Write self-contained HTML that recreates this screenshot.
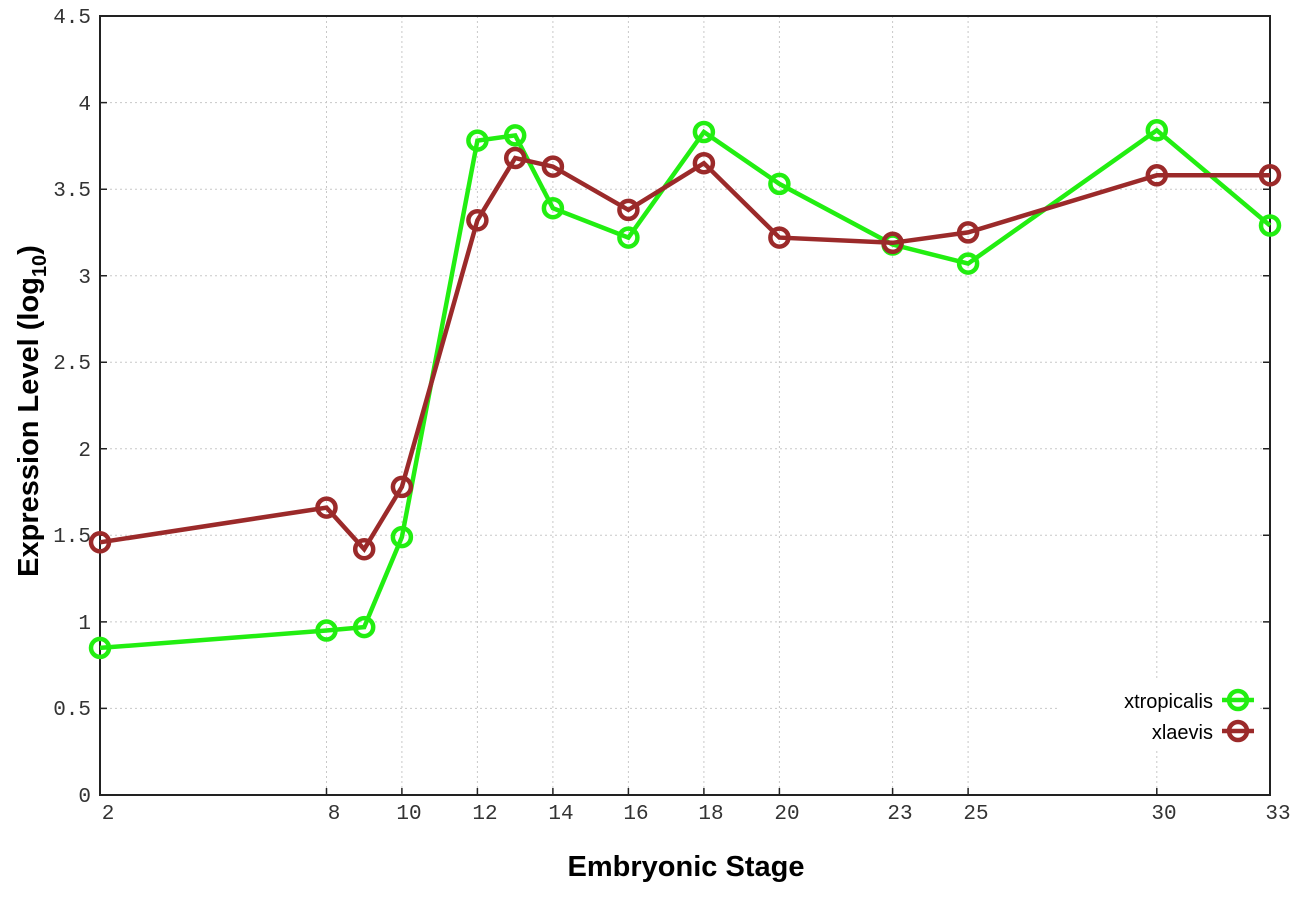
<!DOCTYPE html>
<html><head><meta charset="utf-8"><style>html,body{margin:0;padding:0;background:#fff}</style></head>
<body>
<svg width="1296" height="907" viewBox="0 0 1296 907" xmlns="http://www.w3.org/2000/svg">
<rect width="1296" height="907" fill="#fff"/>
<g stroke="#c8c8c8" stroke-width="1" stroke-dasharray="2,3">
<line x1="100" y1="708.4" x2="1270" y2="708.4"/><line x1="100" y1="621.9" x2="1270" y2="621.9"/>
<line x1="100" y1="535.3" x2="1270" y2="535.3"/><line x1="100" y1="448.8" x2="1270" y2="448.8"/>
<line x1="100" y1="362.3" x2="1270" y2="362.3"/><line x1="100" y1="275.7" x2="1270" y2="275.7"/>
<line x1="100" y1="189.2" x2="1270" y2="189.2"/><line x1="100" y1="102.6" x2="1270" y2="102.6"/>
<line x1="326.5" y1="16" x2="326.5" y2="795"/>
<line x1="401.9" y1="16" x2="401.9" y2="795"/><line x1="477.4" y1="16" x2="477.4" y2="795"/>
<line x1="552.9" y1="16" x2="552.9" y2="795"/>
<line x1="628.4" y1="16" x2="628.4" y2="795"/><line x1="703.9" y1="16" x2="703.9" y2="795"/>
<line x1="779.4" y1="16" x2="779.4" y2="795"/><line x1="892.6" y1="16" x2="892.6" y2="795"/>
<line x1="968.1" y1="16" x2="968.1" y2="795"/><line x1="1156.8" y1="16" x2="1156.8" y2="795"/>
</g>
<rect x="1060" y="680" width="200" height="70" fill="#fff"/>
<rect x="100" y="16" width="1170" height="779" fill="none" stroke="#222" stroke-width="2"/>
<g stroke="#222" stroke-width="1.5">
<path d="M100 708.4h7M100 621.9h7M100 535.3h7M100 448.8h7M100 362.3h7M100 275.7h7M100 189.2h7M100 102.6h7"/>
<path d="M1270 708.4h-7M1270 621.9h-7M1270 535.3h-7M1270 448.8h-7M1270 362.3h-7M1270 275.7h-7M1270 189.2h-7M1270 102.6h-7"/>
<path d="M326.5 795v-7M401.9 795v-7M477.4 795v-7M552.9 795v-7M628.4 795v-7M703.9 795v-7M779.4 795v-7M892.6 795v-7M968.1 795v-7M1156.8 795v-7"/>
</g>
<g font-family="Liberation Mono, monospace" font-size="21" fill="#333" text-anchor="end">
<text x="91" y="802">0</text><text x="91" y="715">0.5</text><text x="91" y="629">1</text>
<text x="91" y="542">1.5</text><text x="91" y="456">2</text><text x="91" y="369">2.5</text>
<text x="91" y="283">3</text><text x="91" y="196">3.5</text><text x="91" y="110">4</text><text x="91" y="23">4.5</text>
</g>
<g font-family="Liberation Mono, monospace" font-size="21" fill="#333" text-anchor="middle">
<text x="108" y="819">2</text><text x="334" y="819">8</text>
<text x="409" y="819">10</text><text x="485" y="819">12</text><text x="561" y="819">14</text>
<text x="636" y="819">16</text><text x="711" y="819">18</text><text x="787" y="819">20</text>
<text x="900" y="819">23</text><text x="976" y="819">25</text><text x="1164" y="819">30</text>
<text x="1278" y="819">33</text>
</g>
<text x="686" y="876" font-family="Liberation Sans, sans-serif" font-weight="bold" font-size="29" text-anchor="middle" fill="#000">Embryonic Stage</text>
<text transform="translate(38,411) rotate(-90)" font-family="Liberation Sans, sans-serif" font-weight="bold" font-size="29" text-anchor="middle" fill="#000">Expression Level (log<tspan font-size="20" dy="8">10</tspan><tspan dy="-8">)</tspan></text>
<g fill="none" stroke="#22ee11" stroke-width="4.5">
<polyline points="100,647.9 326.5,630.5 364.2,627.1 401.9,537.1 477.4,140.6 515.2,135.4 552.9,208.2 628.4,237.6 703.9,132 779.4,183.9 892.6,244.5 968.1,263.6 1156.8,130.3 1270,225.5"/>
<circle cx="100" cy="647.9" r="9"/><circle cx="326.5" cy="630.5" r="9"/><circle cx="364.2" cy="627.1" r="9"/>
<circle cx="401.9" cy="537.1" r="9"/><circle cx="477.4" cy="140.6" r="9"/><circle cx="515.2" cy="135.4" r="9"/>
<circle cx="552.9" cy="208.2" r="9"/><circle cx="628.4" cy="237.6" r="9"/><circle cx="703.9" cy="132" r="9"/>
<circle cx="779.4" cy="183.9" r="9"/><circle cx="892.6" cy="244.5" r="9"/><circle cx="968.1" cy="263.6" r="9"/>
<circle cx="1156.8" cy="130.3" r="9"/><circle cx="1270" cy="225.5" r="9"/>
</g>
<g fill="none" stroke="#9b2a2a" stroke-width="4.5">
<polyline points="100,542.3 326.5,507.6 364.2,549.2 401.9,486.9 477.4,220.3 515.2,158 552.9,166.6 628.4,209.9 703.9,163.2 779.4,237.6 892.6,242.8 968.1,232.4 1156.8,175.3 1270,175.3"/>
<circle cx="100" cy="542.3" r="9"/><circle cx="326.5" cy="507.6" r="9"/><circle cx="364.2" cy="549.2" r="9"/>
<circle cx="401.9" cy="486.9" r="9"/><circle cx="477.4" cy="220.3" r="9"/><circle cx="515.2" cy="158" r="9"/>
<circle cx="552.9" cy="166.6" r="9"/><circle cx="628.4" cy="209.9" r="9"/><circle cx="703.9" cy="163.2" r="9"/>
<circle cx="779.4" cy="237.6" r="9"/><circle cx="892.6" cy="242.8" r="9"/><circle cx="968.1" cy="232.4" r="9"/>
<circle cx="1156.8" cy="175.3" r="9"/><circle cx="1270" cy="175.3" r="9"/>
</g>
<g font-family="Liberation Sans, sans-serif" font-size="20" fill="#000" text-anchor="end">
<text x="1213" y="708">xtropicalis</text><text x="1213" y="739">xlaevis</text>
</g>
<g fill="none" stroke-width="4.5">
<path d="M1222 700h32" stroke="#22ee11"/><circle cx="1238" cy="700" r="9" stroke="#22ee11"/>
<path d="M1222 731h32" stroke="#9b2a2a"/><circle cx="1238" cy="731" r="9" stroke="#9b2a2a"/>
</g>
</svg>
</body></html>
